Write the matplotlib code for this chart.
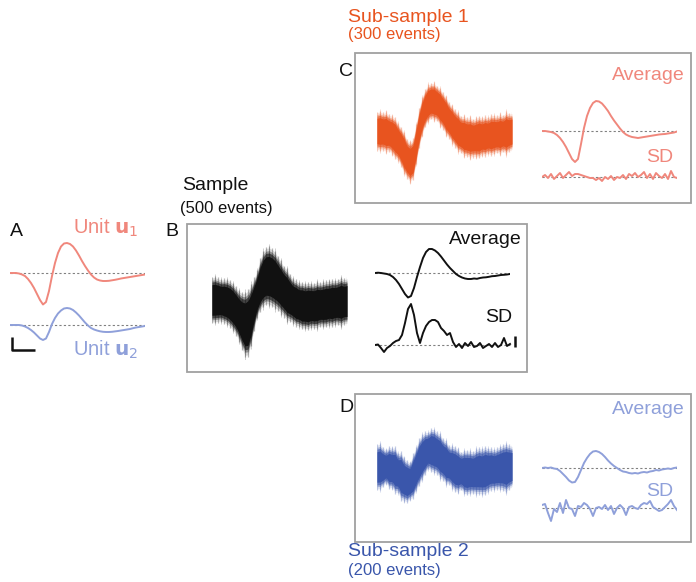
import numpy as np
import matplotlib
matplotlib.use("Agg")
import matplotlib.pyplot as plt

plt.rcParams['font.family'] = ['Liberation Sans', 'DejaVu Sans']

# ---- waveforms (amplitude units, 0.1 ms sampling) ----
t = np.arange(46) * 0.1

unit_u1 = [0, 0, 0, -0.5, -1.5, -3, -6, -10, -15, -21, -27, -31.5, -29, -18, -3, 10,
           20, 26.5, 29.5, 30, 29, 26.5, 22.5, 17.5, 12, 7, 2.5, -1.5, -4.5, -6.5, -7.5,
           -8, -8, -7.8, -7.3, -6.8, -6.2, -5.5, -5, -4.5, -4, -3.5, -3, -2.5, -2, -1.5]
unit_u2 = [0, 0, 0, 0, -0.5, -1.5, -3, -5, -7.5, -10.5, -13.5, -15, -13.5, -7, 1, 7,
           11.5, 14.5, 16.5, 17, 16.5, 15, 12.5, 9.5, 6, 2.5, -0.5, -3, -4.5, -5.5, -6.3,
           -6.8, -7, -7, -6.8, -6.4, -6, -5.5, -5, -4.5, -4, -3.2, -2.5, -2, -1.5, -1]

# Sample (500 events)
sample_avg = [0, 0.3, 0, -0.5, -1, -2, -4, -7, -11, -16, -21, -24.5, -23, -15, -4, 6,
              15, 21, 24, 24, 22.5, 20, 16.5, 12.5, 8.5, 5, 2, -1, -3, -4.5, -5.5,
              -6, -6, -5.5, -5.8, -5, -4.5, -4.3, -3.8, -3.2, -3, -2.5, -2, -1.8, -1.5, -1]
sample_sd = [0, 0.5, -3, -7, -3, -1, 2, 4, 5, 10, 22, 36, 41, 30, 12, 2,
             12, 19, 23, 25, 25, 23, 17, 14, 10, 12, 3, -2, 1, -3, 2,
             -1, 3, -2, -1, 2, -3, -1, 1, -2, 2, -2, 0, 7, -1, 1]

# Sub-sample 1 (300 events)
sub1_avg = [0, 0, -0.5, -1, -2, -4, -7, -11, -16, -22, -28, -31, -28, -13, 3, 15,
            23, 28, 30, 29.5, 27.5, 24, 20, 15, 10.5, 6.5, 2.5, -1, -3.5, -5, -6,
            -6.5, -7, -6.5, -6, -5.5, -5, -4.5, -4, -3.5, -3.2, -3, -2.5, -2, -1.5, -0.5]
sub1_sd = [0, 2, -1, 3, -2, 1, 4, -1, 2, 5, 1, 3, 3, 2, 1, 0,
           -1, -1, -3, -1, -4, 0, -2, 1, -3, 0, -1, 2, -2, 3, 1,
           4, 0, 2, 5, -1, 3, -2, 4, 1, -1, 3, -2, 6, 0, -1]

# Sub-sample 2 (200 events)
sub2_avg = [0, 0.5, 0, 0.5, -0.5, -1, -3, -6, -9, -12.5, -14.5, -14, -9, -2, 5, 10,
            14, 16.5, 17, 16, 14, 11, 7.5, 4.5, 2, 0, -2, -3.5, -4, -5, -5.5,
            -5, -5.5, -4.5, -4, -4.5, -3.5, -3, -2, -2.5, -1.5, -1, -0.5, -1, 0, 0.5]
sub2_sd = [3, 4, -5, -13, -1, -4, 5, -5, 8, 0, -1, -8, 2, 1, 5, 3,
           -1, -8, 0, 1, -1, 3, -2, 2, -6, 0, 3, 0, -7, 1, 2,
           0, -1, 3, 5, 4, 7, 1, -1, -3, -2, 1, 4, 8, 2, -2]

# event-band half width: background noise + excess SD
band_noise = {"sample": 18, "sub1": 15, "sub2": 17}
band_gain = {"sample": 0.2, "sub1": 0.3, "sub2": 0.3}

# colours
BLACK = "#111111"
RED_BAND = "#e8541f"
RED_LIGHT = "#f0877c"
BLUE_BAND = "#3a56ab"
BLUE_LIGHT = "#8fa0da"
GRID_GRAY = "#808080"
BOX_GRAY = "#a0a0a0"

W, H = 696, 582
fig = plt.figure(figsize=(W / 100, H / 100), dpi=100)
fig.patch.set_facecolor("white")


def trace_axes(x_left, baseline_y, lo=-45, hi=50, width=135):
    """Axes whose amplitude unit is one pixel, placed by its left edge and baseline."""
    top = baseline_y - hi
    ax = fig.add_axes([x_left / W, 1 - (top + (hi - lo)) / H, width / W, (hi - lo) / H])
    ax.set_xlim(0, 4.5)
    ax.set_ylim(lo, hi)
    ax.set_axis_off()
    return ax


def baseline(ax, color=GRID_GRAY):
    ax.plot([t[0], t[-1]], [0, 0], color=color, lw=0.8, dashes=(2, 2), zorder=1)


def band(ax, avg, sd, key, color):
    avg = np.asarray(avg, float)
    sd = np.asarray(sd, float)
    half = band_noise[key] + band_gain[key] * sd
    # soft outer edge of the overlaid events
    for f, a in [(1.22, 0.15), (1.1, 0.35), (1.0, 0.6), (0.85, 1.0)]:
        ax.fill_between(t, avg - f * half, avg + f * half, color=color, alpha=a, lw=0)
    # single-event excursions sticking out of the band
    ax.vlines(t, avg - 1.3 * half, avg + 1.3 * half, color=color, lw=0.9, alpha=0.3)
    ax.vlines(t[1::2], avg[1::2] - 1.4 * half[1::2], avg[1::2] + 1.4 * half[1::2],
              color=color, lw=0.7, alpha=0.2)


def box(x0, y0, x1, y1):
    r = plt.Rectangle((x0 / W, 1 - y1 / H), (x1 - x0) / W, (y1 - y0) / H,
                      transform=fig.transFigure, fill=False, ec=BOX_GRAY, lw=1.3)
    fig.add_artist(r)


def ftext(x, y, s, size=14, color=BLACK, ha="left", va="center", **kw):
    fig.text(x / W, 1 - y / H, s, fontsize=size, color=color, ha=ha, va=va, **kw)


# ---- A: units ----
ax = trace_axes(10, 273)
baseline(ax)
ax.plot(t, unit_u1, color=RED_LIGHT, lw=1.4)
ax = trace_axes(10, 325)
baseline(ax)
ax.plot(t, unit_u2, color=BLUE_LIGHT, lw=1.4)
# scale bar
ax.plot([0.07, 0.07, 0.83], [-12, -25, -25], color=BLACK, lw=1.8, solid_capstyle="butt")

ftext(10, 232, "A")
ftext(73, 228, r"Unit $\mathbf{u}_1$", size=14.5, color=RED_LIGHT)
ftext(73, 350, r"Unit $\mathbf{u}_2$", size=14.5, color=BLUE_LIGHT)

# ---- B: sample ----
box(187, 224, 527, 372)
ax = trace_axes(212, 300, lo=-60, hi=60)
band(ax, sample_avg, sample_sd, "sample", BLACK)
ax = trace_axes(375, 273)
baseline(ax)
ax.plot(t, sample_avg, color=BLACK, lw=1.4)
ax = trace_axes(375, 345, width=150)
ax.set_xlim(0, 5.0)
baseline(ax)
ax.plot(t, sample_sd, color=BLACK, lw=1.4)
ax.plot([4.67, 4.67], [-2, 9], color=BLACK, lw=1.8, solid_capstyle="butt")

ftext(182, 185, "Sample")
ftext(180, 208, "(500 events)", size=12)
ftext(165, 232, "B")
ftext(522, 240, "Average", ha="right")
ftext(512, 318, "SD", ha="right")

# ---- C: sub-sample 1 ----
box(355, 53, 691, 203)
ax = trace_axes(377, 131, lo=-60, hi=60)
band(ax, sub1_avg, sub1_sd, "sub1", RED_BAND)
ax = trace_axes(542, 131)
baseline(ax)
ax.plot(t, sub1_avg, color=RED_LIGHT, lw=1.4)
ax = trace_axes(542, 177)
baseline(ax)
ax.plot(t, sub1_sd, color=RED_LIGHT, lw=1.4)

ftext(348, 17, "Sub-sample 1", color=RED_BAND)
ftext(348, 35, "(300 events)", size=12, color=RED_BAND)
ftext(339, 72, "C")
ftext(685, 76, "Average", color=RED_LIGHT, ha="right")
ftext(673, 158, "SD", color=RED_LIGHT, ha="right")

# ---- D: sub-sample 2 ----
box(355, 394, 691, 542)
ax = trace_axes(377, 467, lo=-60, hi=60)
band(ax, sub2_avg, sub2_sd, "sub2", BLUE_BAND)
ax = trace_axes(542, 468)
baseline(ax)
ax.plot(t, sub2_avg, color=BLUE_LIGHT, lw=1.4)
ax = trace_axes(542, 508)
baseline(ax)
ax.plot(t, sub2_sd, color=BLUE_LIGHT, lw=1.4)

ftext(348, 551, "Sub-sample 2", color=BLUE_BAND)
ftext(348, 570, "(200 events)", size=12, color=BLUE_BAND)
ftext(339, 408, "D")
ftext(685, 410, "Average", color=BLUE_LIGHT, ha="right")
ftext(673, 491, "SD", color=BLUE_LIGHT, ha="right")

fig.savefig("out.png", dpi=100, facecolor="white")
